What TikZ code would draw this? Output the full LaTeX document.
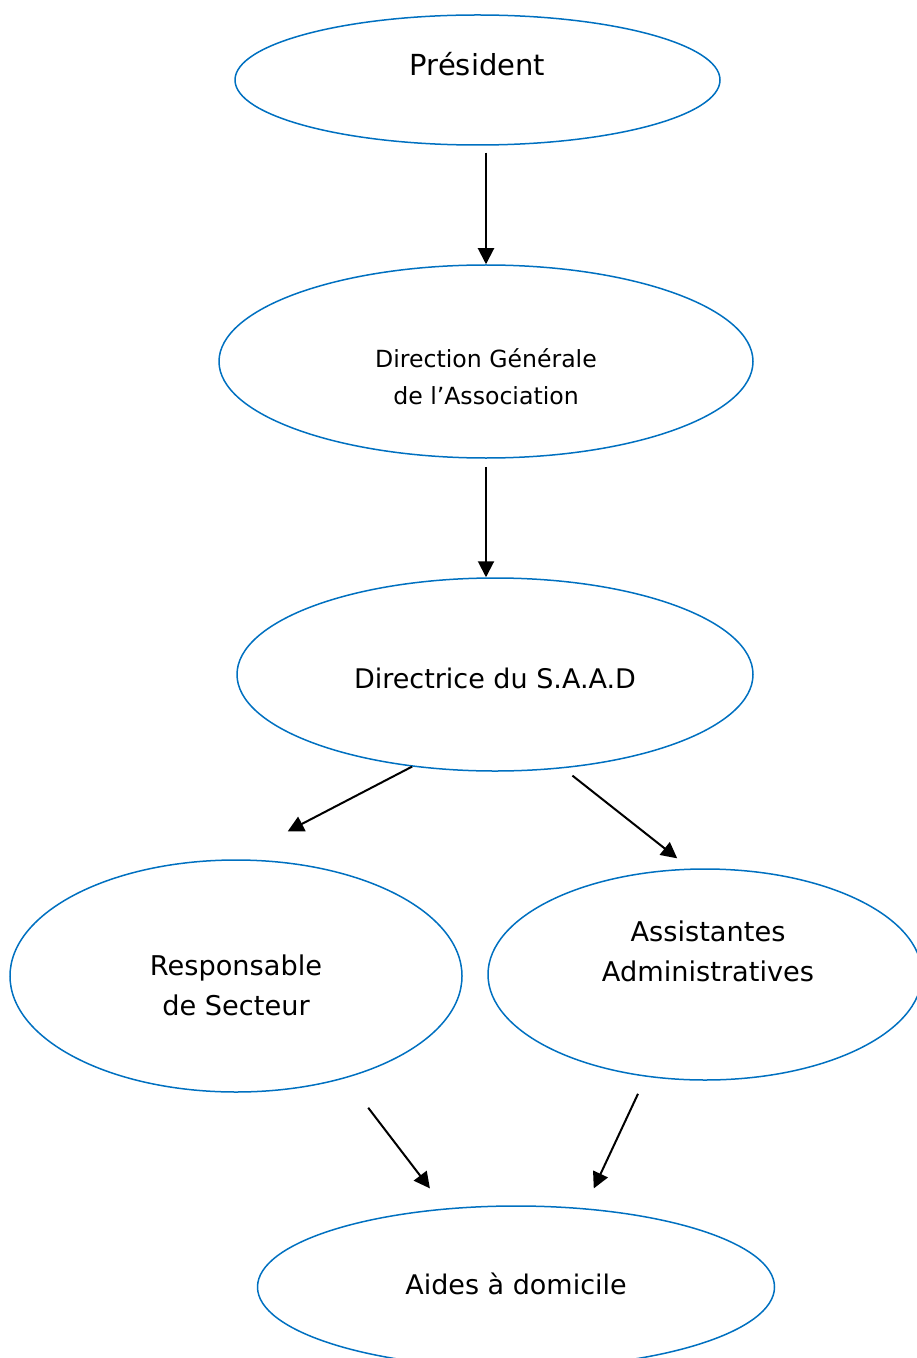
\documentclass[tikz,border=0pt]{standalone}
\usepackage{fontspec}
\setmainfont{DejaVu Sans}
\usetikzlibrary{shapes.geometric,arrows.meta}
\definecolor{ovalblue}{RGB}{0,112,192}
\begin{document}
\begin{tikzpicture}[x=0.5pt, y=-0.5pt,
      oval/.style={ellipse, draw=ovalblue, line width=0.75pt, inner sep=0pt},
      txt/.style={align=center, inner sep=0pt},
      flow/.style={line width=1pt, -{Triangle[length=8pt,width=8pt]}}
  ]
    \useasboundingbox (0,0) rectangle (916,1358);
    \node[oval, minimum width=242.5pt, minimum height=65pt,
          label={[txt, yshift=8pt, font=\fontsize{14.5}{18}\selectfont]center:Président}] (pres) at (477.5,80) {};
    \node[oval, minimum width=267pt, minimum height=96.5pt,
          label={[txt, yshift=-7.5pt, font=\fontsize{11.8}{18.5}\selectfont]center:Direction Générale\\de l’Association}] (dirg) at (486,361.5) {};
    \node[oval, minimum width=258pt, minimum height=96.5pt,
          label={[txt, yshift=-2pt, font=\fontsize{13.5}{18}\selectfont]center:Directrice du S.A.A.D}] (dirs) at (495,674.5) {};
    \node[oval, minimum width=226pt, minimum height=116pt,
          label={[txt, yshift=-4.5pt, font=\fontsize{13.6}{20}\selectfont]center:Responsable\\de Secteur}] (resp) at (236,976) {};
    \node[oval, minimum width=217pt, minimum height=105.5pt,
          label={[txt, xshift=1.5pt, yshift=11.5pt, font=\fontsize{13.6}{20}\selectfont]center:Assistantes\\Administratives}] (asst) at (705,974.5) {};
    \node[oval, minimum width=258.5pt, minimum height=81pt,
          label={[txt, yshift=1.5pt, font=\fontsize{13.5}{18}\selectfont]center:Aides à domicile}] (aides) at (516,1287) {};

    \draw[flow, shorten <=3.5pt] (dirg.north |- pres.south) -- (dirg.north);
    \draw[flow, shorten <=4pt] (dirg.south) -- (dirg.south |- dirs.north);
    \draw[flow, shorten >=30.3pt] (dirs.228) -- (resp.91);
    \draw[flow, shorten <=5.9pt, shorten >=8.2pt] (dirs.306) -- (asst.98);
    \draw[flow, shorten <=18.6pt, shorten >=12.6pt] (resp.317) -- (aides.132);
    \draw[flow, shorten <=9.4pt, shorten >=10.9pt] (asst.240) -- (aides.49);
  \end{tikzpicture}
\end{document}
